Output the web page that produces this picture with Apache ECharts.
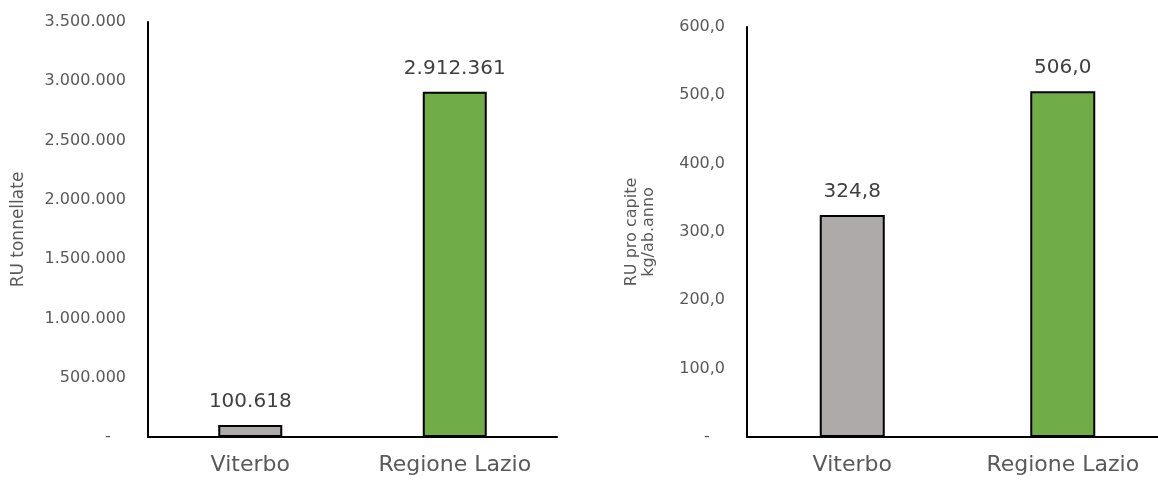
<!DOCTYPE html>
<html><head><meta charset="utf-8">
<script src="https://cdn.jsdelivr.net/npm/echarts@6/dist/echarts.min.js"></script>
<style>html,body{margin:0;padding:0;background:#fff}#c{width:1158px;height:482px}</style>
</head><body><div id="c"></div>
<script>
const categories = ["Viterbo", "Regione Lazio"];
const tonnellate = [100618, 2912361];
const proCapite = [324.8, 506.0];
const barColors = ["#AEAAAA", "#70AD47"];
const leftAxisName = "RU tonnellate";
const rightAxisName = "RU pro capite\nkg/ab.anno";

const FONT = "DejaVu Sans";
function itNum(v, dec) {
  const s = v.toFixed(dec);
  let [ip, dp] = s.split(".");
  ip = ip.replace(/\B(?=(\d{3})+(?!\d))/g, ".");
  return dp ? ip + "," + dp : ip;
}
function mkData(vals) {
  return vals.map((v, i) => ({ value: v, itemStyle: { color: barColors[i] } }));
}
const yLabel = { color: "#595959", fontSize: 16, fontFamily: FONT, margin: 22 };
const chart = echarts.init(document.getElementById("c"));
chart.setOption({
  animation: false,
  textStyle: { fontFamily: FONT },
  grid: [
    { left: 148, width: 409, top: 22, bottom: 45, outerBoundsMode: "none", containLabel: false },
    { left: 747, width: 421, top: 27, bottom: 45, outerBoundsMode: "none", containLabel: false }
  ],
  xAxis: [0, 1].map(g => ({
    type: "category", gridIndex: g, data: categories,
    axisLine: { lineStyle: { color: "#000", width: 2 } },
    axisTick: { show: false },
    axisLabel: { color: "#595959", fontSize: 22, fontFamily: FONT, margin: 17 }
  })),
  yAxis: [
    {
      type: "value", gridIndex: 0, min: 0, max: 3500000, interval: 500000,
      name: leftAxisName, nameLocation: "middle", nameGap: 121,
      nameTextStyle: { color: "#595959", fontSize: 17, fontFamily: FONT },
      axisLine: { show: true, lineStyle: { color: "#000", width: 2 } },
      axisTick: { show: false }, splitLine: { show: false },
      axisLabel: Object.assign({}, yLabel, { formatter: v => v === 0 ? "-   " : itNum(v, 0) })
    },
    {
      type: "value", gridIndex: 1, min: 0, max: 600, interval: 100,
      name: rightAxisName, nameLocation: "middle", nameGap: 90,
      nameTextStyle: { color: "#595959", fontSize: 16, fontFamily: FONT, lineHeight: 17 },
      axisLine: { show: true, lineStyle: { color: "#000", width: 2 } },
      axisTick: { show: false }, splitLine: { show: false },
      axisLabel: Object.assign({}, yLabel, { formatter: v => v === 0 ? "-   " : itNum(v, 1) })
    }
  ],
  series: [
    {
      type: "bar", xAxisIndex: 0, yAxisIndex: 0, data: mkData(tonnellate), barWidth: 64,
      itemStyle: { borderColor: "#000", borderWidth: 2 },
      label: { show: true, position: "top", distance: 13, color: "#404040", fontSize: 20, fontFamily: FONT,
        formatter: p => itNum(p.value, 0) }
    },
    {
      type: "bar", xAxisIndex: 1, yAxisIndex: 1, data: mkData(proCapite), barWidth: 65,
      itemStyle: { borderColor: "#000", borderWidth: 2 },
      label: { show: true, position: "top", distance: 13, color: "#404040", fontSize: 20, fontFamily: FONT,
        formatter: p => itNum(p.value, 1) }
    }
  ]
});
</script></body></html>
